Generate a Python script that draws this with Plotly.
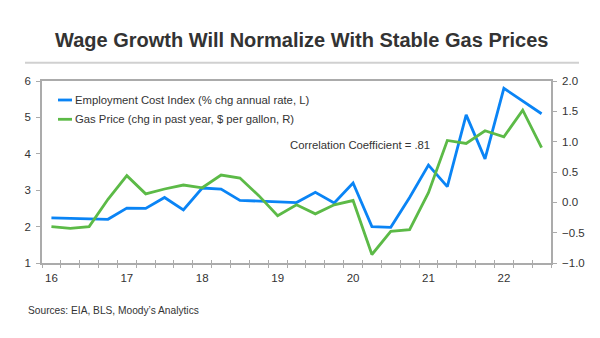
import plotly.graph_objects as go

quarters = list(range(27))  # 2016Q1 .. 2022Q3
eci = [2.24, 2.23, 2.22, 2.20, 2.51, 2.50, 2.80, 2.46, 3.06, 3.03, 2.72, 2.70, 2.68, 2.66,
       2.94, 2.65, 3.20, 2.00, 1.98, 2.80, 3.69, 3.10, 5.07, 3.86, 5.80, 5.46, 5.10]
gas = [-0.40, -0.43, -0.40, 0.05, 0.44, 0.14, 0.22, 0.285, 0.24, 0.45, 0.40, 0.11, -0.22, -0.04,
       -0.19, -0.04, 0.03, -0.86, -0.48, -0.45, 0.16, 1.02, 0.97, 1.18, 1.08, 1.52, 0.90]
year_pos = [0, 4, 8, 12, 16, 20, 24]
year_lbl = ["16", "17", "18", "19", "20", "21", "22"]

W, H = 600, 338
L, R, T, B = 42, 49, 81, 75
PW, PH = W - L - R, H - T - B

def px(x):
    return (x - L) / PW

def py(y):
    return (H - B - y) / PH

BLUE = "#0A84F5"
GREEN = "#5CBA47"
AX = "#ABABAB"
TXT = "#333333"
FONT = "Liberation Sans, Arial, sans-serif"

fig = go.Figure()
fig.add_trace(go.Scatter(x=quarters, y=eci, mode="lines", line=dict(color=BLUE, width=2.8),
                         name="Employment Cost Index (% chg annual rate, L)", xaxis="x", yaxis="y"))
fig.add_trace(go.Scatter(x=quarters, y=gas, mode="lines", line=dict(color=GREEN, width=2.8),
                         name="Gas Price (chg in past year, $ per gallon, R)", xaxis="x2", yaxis="y2"))

fig.update_layout(
    width=W, height=H, margin=dict(l=L, r=R, t=T, b=B),
    paper_bgcolor="white", plot_bgcolor="white", showlegend=False,
    font=dict(family=FONT, color=TXT, size=11.5),
    xaxis=dict(range=[-0.5, 26.5], tickmode="array", tickvals=year_pos, ticktext=year_lbl,
               ticks="", showline=True, linecolor=AX, linewidth=1.5, mirror=True,
               showgrid=False, zeroline=False, tickfont=dict(size=11.5, color=TXT),
               ticklabelstandoff=3,
               minor=dict(tickmode="linear", tick0=-0.5, dtick=1, ticks="outside",
                          ticklen=3, tickcolor=AX, tickwidth=1, showgrid=False)),
    xaxis2=dict(overlaying="x", matches="x", anchor="y", side="bottom", range=[-0.5, 26.5],
                tickmode="linear", tick0=-0.5, dtick=1, ticks="inside", ticklen=3,
                tickcolor=AX, tickwidth=1, showticklabels=False, showgrid=False,
                zeroline=False, showline=False),
    yaxis=dict(range=[1, 6], dtick=1, ticks="outside", ticklen=4, tickcolor=AX,
               showline=True, linecolor=AX, linewidth=1.5, showgrid=False, zeroline=False,
               tickfont=dict(size=11.5, color=TXT), ticklabelstandoff=3),
    yaxis2=dict(range=[-1, 2], dtick=0.5, tickformat=".1f", overlaying="y", side="right",
                anchor="x", ticks="outside", ticklen=4, tickcolor=AX, showline=True,
                linecolor=AX, linewidth=1.5, showgrid=False, zeroline=False,
                tickfont=dict(size=11.5, color=TXT), ticklabelstandoff=3),
)

shapes = [
    dict(type="line", xref="paper", yref="paper", x0=px(25), x1=px(579), y0=py(62.7), y1=py(62.7),
         line=dict(color="#D0D0D0", width=2)),
    dict(type="line", xref="paper", yref="paper", x0=px(58), x1=px(72), y0=py(100), y1=py(100),
         line=dict(color=BLUE, width=2.8)),
    dict(type="line", xref="paper", yref="paper", x0=px(58), x1=px(72), y0=py(119.3), y1=py(119.3),
         line=dict(color=GREEN, width=2.8)),
]
fig.update_layout(shapes=shapes)

ann = [
    dict(text="<b>Wage Growth Will Normalize With Stable Gas Prices</b>", x=px(301), y=py(40),
         xanchor="center", yanchor="middle", font=dict(size=20, color=TXT)),
    dict(text="Employment Cost Index (% chg annual rate, L)", x=px(72.5), y=py(100),
         xanchor="left", yanchor="middle", font=dict(size=11.3, color=TXT)),
    dict(text="Gas Price (chg in past year, $ per gallon, R)", x=px(72.5), y=py(119.3),
         xanchor="left", yanchor="middle", font=dict(size=11.3, color=TXT)),
    dict(text="Correlation Coefficient = .81", x=px(288), y=py(145),
         xanchor="left", yanchor="middle", font=dict(size=11.3, color=TXT)),
    dict(text="Sources: EIA, BLS, Moody\u2019s Analytics", x=px(25.5), y=py(310),
         xanchor="left", yanchor="middle", font=dict(size=10.2, color=TXT)),
]
for a in ann:
    a.update(xref="paper", yref="paper", showarrow=False)
fig.update_layout(annotations=ann)

fig.write_html("out.html")
